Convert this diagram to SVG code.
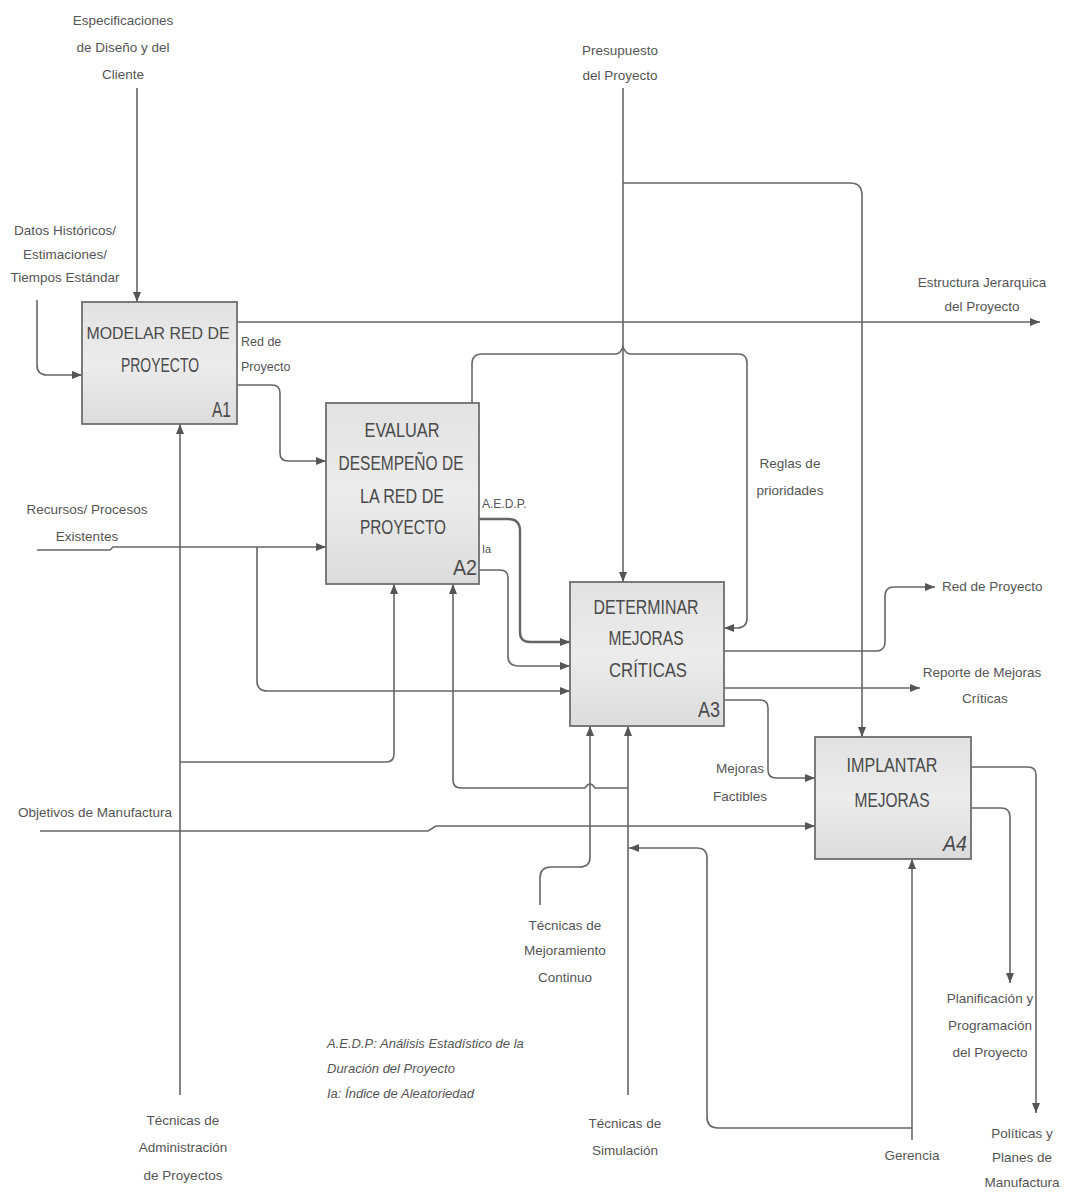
<svg xmlns="http://www.w3.org/2000/svg" width="1077" height="1193" viewBox="0 0 1077 1193">
<style>
.bg{fill:#ffffff}
.box{fill:url(#boxfill);stroke:#6e6e6e;stroke-width:1.8}
.bt{font-family:"Liberation Sans",Arial,sans-serif;font-size:20px;fill:#4a4a4a;text-anchor:middle}
.id{font-family:"Liberation Sans",Arial,sans-serif;font-size:22px;fill:#4a4a4a;text-anchor:end}
.lb{font-family:"Liberation Sans",Arial,sans-serif;font-size:13.5px;fill:#555;text-anchor:middle}
.ls{font-family:"Liberation Sans",Arial,sans-serif;font-size:13.5px;fill:#555;text-anchor:start}
.note{font-family:"Liberation Sans",Arial,sans-serif;font-size:13px;font-style:italic;fill:#555}
.c{fill:none;stroke:#666;stroke-width:1.6}
.ca{fill:none;stroke:#666;stroke-width:1.6;marker-end:url(#arr)}
.thick{stroke-width:2.4}
</style>
<defs>
<linearGradient id="boxfill" x1="0" y1="0" x2="0" y2="1">
<stop offset="0" stop-color="#e2e2e2"/>
<stop offset="0.5" stop-color="#ececec"/>
<stop offset="1" stop-color="#dcdcdc"/>
</linearGradient>
<marker id="arr" markerUnits="userSpaceOnUse" markerWidth="12" markerHeight="10" refX="10" refY="5" orient="auto">
<path d="M0,1 L10,5 L0,9 Z" fill="#555"/>
</marker>
</defs>
<rect class="bg" x="0" y="0" width="1077" height="1193"/>

<g id="connectors">
<path class="ca" d="M137,88 V302"/>
<path class="ca" d="M37,300 V365 Q37,375 47,375 H82"/>
<path class="ca" d="M237,322 H1040"/>
<path class="ca" d="M237,385 H272 Q280,385 280,393 V453 Q280,461 288,461 H326"/>
<path class="ca" d="M623,88 V582"/>
<path class="ca" d="M623,183 H850 Q862,183 862,195 V737"/>
<path class="ca" d="M472,403 V364 Q472,354 482,354 H616 Q620,354 623,347 Q626,354 630,354 H738 Q747,354 747,363 V618 Q747,628 737,628 H724"/>
<path class="ca thick" d="M479,519 H508 Q520,519 520,531 V632 Q520,642 530,642 H570"/>
<path class="ca" d="M479,570 H500 Q508,570 508,578 V656 Q508,666 518,666 H570"/>
<path class="ca" d="M37,550 H110 L113,547 H326"/>
<path class="ca" d="M257,547 V681 Q257,691 267,691 H570"/>
<path class="ca" d="M180,1095 V424"/>
<path class="ca" d="M180,762 H386 Q394,762 394,754 V584"/>
<path class="ca" d="M628,1095 V726"/>
<path class="ca" d="M628,788 H595 Q590,780 585,788 H461 Q453,788 453,780 V584"/>
<path class="ca" d="M540,905 V878 Q540,867 551,867 H580 Q590,867 590,857 V726"/>
<path class="ca" d="M40,831 H428 L436,826 H815"/>
<path class="ca" d="M912,1140 V859"/>
<path class="ca" d="M912,1128 H718 Q707,1128 707,1117 V858 Q707,848 697,848 H629"/>
<path class="ca" d="M724,651 H876 Q885,651 885,642 V596 Q885,587 894,587 H935"/>
<path class="ca" d="M724,688 H920"/>
<path class="ca" d="M724,700 H760 Q768,700 768,708 V770 Q768,778 776,778 H815"/>
<path class="ca" d="M971,767 H1028 Q1036,767 1036,775 V1113"/>
<path class="ca" d="M971,808 H1001 Q1010,808 1010,817 V983"/>
</g>

<g id="A1">
<rect class="box" x="82" y="302" width="155" height="122"/>
<text class="bt" x="158" y="339" style="font-size:16px" textLength="143" lengthAdjust="spacingAndGlyphs">MODELAR RED DE</text>
<text class="bt" x="160" y="372" textLength="78" lengthAdjust="spacingAndGlyphs">PROYECTO</text>
<text class="id" x="231" y="417" textLength="19" lengthAdjust="spacingAndGlyphs">A1</text>
</g>

<g id="A2">
<rect class="box" x="326" y="403" width="153" height="181"/>
<text class="bt" x="402" y="437" textLength="75" lengthAdjust="spacingAndGlyphs">EVALUAR</text>
<text class="bt" x="401" y="470" textLength="125" lengthAdjust="spacingAndGlyphs">DESEMPEÑO DE</text>
<text class="bt" x="402" y="503" textLength="84" lengthAdjust="spacingAndGlyphs">LA RED DE</text>
<text class="bt" x="403" y="534" textLength="86" lengthAdjust="spacingAndGlyphs">PROYECTO</text>
<text class="id" x="477" y="575" textLength="24" lengthAdjust="spacingAndGlyphs">A2</text>
</g>

<g id="A3">
<rect class="box" x="570" y="582" width="154" height="144"/>
<text class="bt" x="646" y="614" textLength="105" lengthAdjust="spacingAndGlyphs">DETERMINAR</text>
<text class="bt" x="646" y="645" textLength="75" lengthAdjust="spacingAndGlyphs">MEJORAS</text>
<text class="bt" x="648" y="677" textLength="78" lengthAdjust="spacingAndGlyphs">CRÍTICAS</text>
<text class="id" x="720" y="717" textLength="22" lengthAdjust="spacingAndGlyphs">A3</text>
</g>

<g id="A4">
<rect class="box" x="815" y="737" width="156" height="122"/>
<text class="bt" x="892" y="772" textLength="91" lengthAdjust="spacingAndGlyphs">IMPLANTAR</text>
<text class="bt" x="892" y="807" textLength="75" lengthAdjust="spacingAndGlyphs">MEJORAS</text>
<text class="id" x="967" y="851" textLength="24" lengthAdjust="spacingAndGlyphs" style="font-style:italic">A4</text>
</g>

<g id="labels">
<text class="lb" x="123" y="25">Especificaciones</text>
<text class="lb" x="123" y="52">de Diseño y del</text>
<text class="lb" x="123" y="79">Cliente</text>
<text class="lb" x="65" y="235">Datos Históricos/</text>
<text class="lb" x="65" y="259">Estimaciones/</text>
<text class="lb" x="65" y="282">Tiempos Estándar</text>
<text class="ls" x="241" y="346" style="font-size:12.5px">Red de</text>
<text class="ls" x="241" y="371" style="font-size:12.5px">Proyecto</text>
<text class="lb" x="620" y="55">Presupuesto</text>
<text class="lb" x="620" y="80">del Proyecto</text>
<text class="lb" x="982" y="287">Estructura Jerarquica</text>
<text class="lb" x="982" y="311">del Proyecto</text>
<text class="lb" x="790" y="468">Reglas de</text>
<text class="lb" x="790" y="495">prioridades</text>
<text class="ls" x="482" y="508" style="font-size:12px">A.E.D.P.</text>
<text class="ls" x="482" y="553" style="font-size:11px">Ia</text>
<text class="lb" x="87" y="514">Recursos/ Procesos</text>
<text class="lb" x="87" y="541">Existentes</text>
<text class="ls" x="942" y="591">Red de Proyecto</text>
<text class="lb" x="982" y="677">Reporte de Mejoras</text>
<text class="lb" x="985" y="703">Críticas</text>
<text class="lb" x="740" y="773">Mejoras</text>
<text class="lb" x="740" y="801">Factibles</text>
<text class="lb" x="95" y="817">Objetivos de Manufactura</text>
<text class="lb" x="565" y="930">Técnicas de</text>
<text class="lb" x="565" y="955">Mejoramiento</text>
<text class="lb" x="565" y="982">Continuo</text>
<text class="lb" x="990" y="1003">Planificación y</text>
<text class="lb" x="990" y="1030">Programación</text>
<text class="lb" x="990" y="1057">del Proyecto</text>
<text class="lb" x="1022" y="1138">Políticas y</text>
<text class="lb" x="1022" y="1162">Planes de</text>
<text class="lb" x="1022" y="1187">Manufactura</text>
<text class="lb" x="912" y="1160">Gerencia</text>
<text class="lb" x="625" y="1128">Técnicas de</text>
<text class="lb" x="625" y="1155">Simulación</text>
<text class="lb" x="183" y="1125">Técnicas de</text>
<text class="lb" x="183" y="1152">Administración</text>
<text class="lb" x="183" y="1180">de Proyectos</text>
<text class="note" x="327" y="1048">A.E.D.P: Análisis Estadístico de la</text>
<text class="note" x="327" y="1073">Duración del Proyecto</text>
<text class="note" x="327" y="1098">Ia: Índice de Aleatoriedad</text>
</g>
</svg>
